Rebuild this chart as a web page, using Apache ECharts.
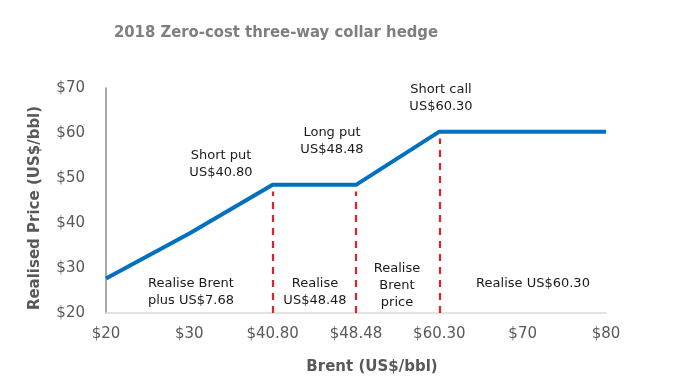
<!DOCTYPE html>
<html><head><meta charset="utf-8">
<script src="https://cdn.jsdelivr.net/npm/echarts@6/dist/echarts.min.js"></script>
<style>html,body{margin:0;padding:0;background:#fff}#c{width:673px;height:389px}</style>
</head><body><div id="c"></div>
<script>
const categories = ['$20','$30','$40.80','$48.48','$60.30','$70','$80'];
const realised = [27.68, 37.68, 48.48, 48.48, 60.30, 60.30, 60.30];
const strikes = ['$40.80','$48.48','$60.30'];
const strikeValues = [48.48, 48.48, 60.30];
const yTicks = [20,30,40,50,60,70];

const chart = echarts.init(document.getElementById('c'));
const font = 'DejaVu Sans';
const txt = (x, y, s) => ({type:'text', x:x, y:y, silent:true,
  style:{text:s, font:'13px "DejaVu Sans"', fill:'#1a1a1a', textAlign:'center', textVerticalAlign:'top', lineHeight:17}});
chart.setOption({
  animation:false,
  title:{text:'2018 Zero-cost three-way collar hedge', left:271, top:19, textAlign:'center',
    textStyle:{fontFamily:'DejaVu Sans Condensed', fontWeight:'bold', fontSize:16.5, color:'#7f7f7f'}},
  grid:{left:106, right:67, top:88, bottom:76},
  xAxis:{type:'category', data:categories, boundaryGap:false,
    axisLine:{lineStyle:{color:'#d9d9d9', width:1.5}}, axisTick:{show:false},
    axisLabel:{fontFamily:font, fontSize:15, color:'#595959', margin:14}},
  yAxis:{type:'value', min:20, max:70, interval:10,
    axisLine:{show:true, lineStyle:{color:'#8c8c8c', width:1.5}}, axisTick:{show:false},
    splitLine:{show:false},
    axisLabel:{fontFamily:font, fontSize:15, color:'#595959', margin:21, formatter:v=>'$'+v}},
  series:[{type:'line', data:realised, symbol:'none', z:3,
    lineStyle:{color:'#0070c0', width:4},
    markLine:{silent:true, symbol:'none', label:{show:false},
      lineStyle:{color:'#e0202a', type:[7,6], width:2.2},
      data: strikes.map((s,i)=>[{coord:[s,20]},{coord:[s,strikeValues[i]-1.5]}])}
  }],
  graphic:[
    {type:'text', x:35, y:208, rotation:Math.PI/2, silent:true,
      style:{text:'Realised Price (US$/bbl)', font:'bold 15px "DejaVu Sans"', fill:'#595959', textAlign:'center', textVerticalAlign:'middle'}},
    {type:'text', x:372, y:367, silent:true,
      style:{text:'Brent (US$/bbl)', font:'bold 15px "DejaVu Sans"', fill:'#595959', textAlign:'center', textVerticalAlign:'middle'}},
    txt(221,147,'Short put\nUS$40.80'),
    txt(332,124,'Long put\nUS$48.48'),
    txt(441,81,'Short call\nUS$60.30'),
    txt(191,275,'Realise Brent\nplus US$7.68'),
    txt(315,275,'Realise\nUS$48.48'),
    txt(397,260,'Realise\nBrent\nprice'),
    txt(533,275,'Realise US$60.30')
  ]
});
</script></body></html>
